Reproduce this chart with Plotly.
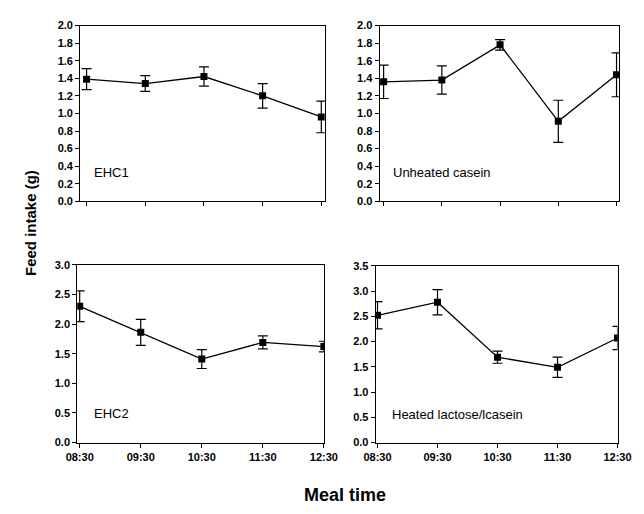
import plotly.graph_objects as go

times = ["08:30", "09:30", "10:30", "11:30", "12:30"]

ehc1 = [1.39, 1.34, 1.42, 1.20, 0.96]
ehc1_err = [0.12, 0.09, 0.11, 0.14, 0.18]

unheated = [1.36, 1.38, 1.78, 0.91, 1.44]
unheated_err = [0.19, 0.16, 0.06, 0.24, 0.25]

ehc2 = [2.30, 1.86, 1.41, 1.69, 1.62]
ehc2_err = [0.26, 0.22, 0.16, 0.11, 0.09]

heated = [2.52, 2.78, 1.69, 1.49, 2.07]
heated_err = [0.27, 0.25, 0.12, 0.20, 0.23]

panel_names = ["EHC1", "Unheated casein", "EHC2", "Heated lactose/lcasein"]
y_max = [2.0, 2.0, 3.0, 3.5]
y_step = [0.2, 0.2, 0.5, 0.5]

series = [(ehc1, ehc1_err), (unheated, unheated_err), (ehc2, ehc2_err), (heated, heated_err)]

W, H = 644, 514
# panel boxes in pixels: (left, right, top, bottom)
boxes = [(71, 326, 20, 200), (383, 633, 20, 200), (68, 325, 265, 447), (379, 631, 266, 447)]
xranges = [[-0.11, 4.06], [-0.07, 4.05], [-0.04, 4.0], [-0.03, 4.0]]
label_pos = [(83, 170), (395, 170), (83, 417), (394, 418)]

FONT = "Arial, Liberation Sans, sans-serif"
fig = go.Figure()

for i, ((vals, errs), name) in enumerate(zip(series, panel_names)):
    n = i + 1
    xa = "x" if n == 1 else f"x{n}"
    ya = "y" if n == 1 else f"y{n}"
    fig.add_trace(go.Scatter(
        x=list(range(len(times))), y=vals,
        error_y=dict(type="data", array=errs, visible=True, color="black", thickness=1.2, width=5),
        mode="lines+markers",
        line=dict(color="black", width=1.3),
        marker=dict(symbol="square", size=7, color="black"),
        xaxis=xa, yaxis=ya, showlegend=False, hoverinfo="skip",
    ))
    l, r, t, b = boxes[i]
    xkey = "xaxis" if n == 1 else f"xaxis{n}"
    ykey = "yaxis" if n == 1 else f"yaxis{n}"
    bottom_row = i >= 2
    fig.layout[xkey] = dict(
        domain=[l / W, r / W], anchor=ya, range=xranges[i],
        tickmode="array", tickvals=list(range(len(times))),
        ticktext=times if bottom_row else [""] * len(times),
        showticklabels=bottom_row,
        ticks="outside", ticklen=4, tickcolor="black", tickwidth=1,
        showline=True, linecolor="black", linewidth=1, mirror=True,
        showgrid=False, zeroline=False,
        tickfont=dict(family=FONT, size=11, color="black", weight="bold"),
    )
    nt = int(round(y_max[i] / y_step[i]))
    tv = [round(k * y_step[i], 2) for k in range(nt + 1)]
    fig.layout[ykey] = dict(
        domain=[1 - b / H, 1 - t / H], anchor=xa, range=[0, y_max[i]],
        tickmode="array", tickvals=tv, ticktext=[f"{v:.1f}" for v in tv],
        ticks="outside", ticklen=4, tickcolor="black", tickwidth=1,
        showline=True, linecolor="black", linewidth=1, mirror=True,
        showgrid=False, zeroline=False,
        tickfont=dict(family=FONT, size=11, color="black", weight="bold"),
    )
    lx, ly = label_pos[i]
    fig.add_annotation(x=lx / W, y=1 - ly / H, xref="paper", yref="paper",
                       text=name, showarrow=False, xanchor="left", yanchor="middle",
                       font=dict(family=FONT, size=13, color="black"))

fig.add_annotation(x=20 / W, y=1 - 222 / H, xref="paper", yref="paper",
                   text="Feed intake (g)", showarrow=False, textangle=-90,
                   xanchor="center", yanchor="middle",
                   font=dict(family=FONT, size=15, color="black", weight="bold"))
fig.add_annotation(x=347 / W, y=1 - 501 / H, xref="paper", yref="paper",
                   text="Meal time", showarrow=False,
                   xanchor="center", yanchor="middle",
                   font=dict(family=FONT, size=18, color="black", weight="bold"))

fig.update_layout(width=W, height=H, margin=dict(l=0, r=0, t=0, b=0),
                  plot_bgcolor="white", paper_bgcolor="white", hovermode=False)
fig.write_html("out.html", config={"displayModeBar": False, "staticPlot": True},
               post_script="document.body.style.margin='0';")
